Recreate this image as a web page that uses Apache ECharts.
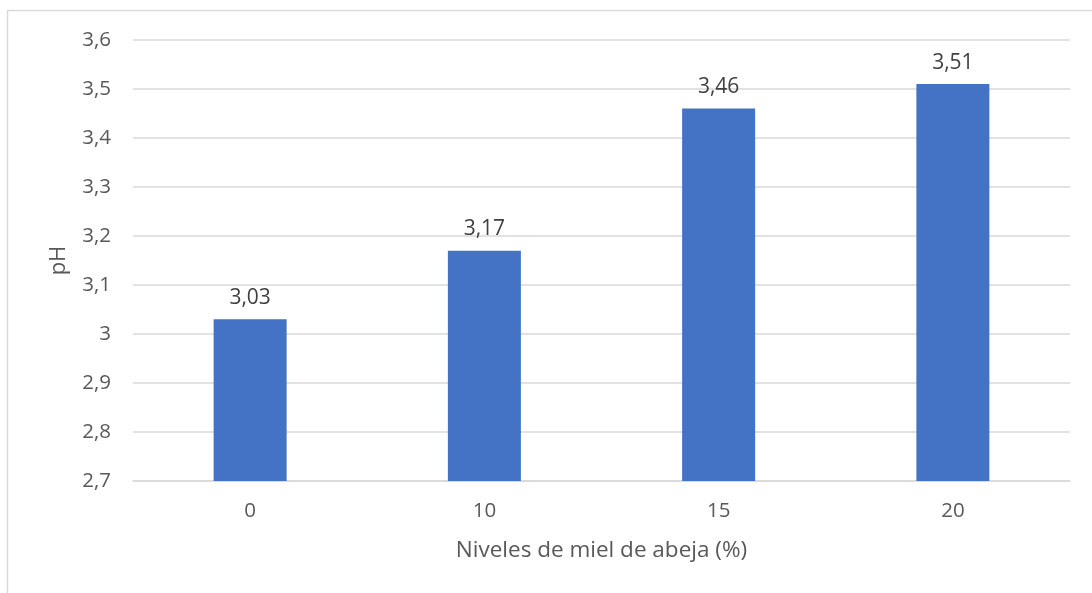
<!DOCTYPE html>
<html>
<head>
<meta charset="utf-8">
<script src="https://cdn.jsdelivr.net/npm/echarts@6/dist/echarts.min.js"></script>
<style>
html,body{margin:0;padding:0;background:#fff;}
#chart{width:1092px;height:593px;}
</style>
</head>
<body>
<div id="chart"></div>
<script>
// Niveles de miel de abeja (%) y pH medido
const categories = ['0', '10', '15', '20'];
const phValues = [3.03, 3.17, 3.46, 3.51];
const yMin = 2.7, yMax = 3.6, yStep = 0.1;

const FONT = '"Open Sans", "Liberation Sans", sans-serif';
const TEXT = '#595959';
const comma = v => String(v).replace('.', ',');

const chart = echarts.init(document.getElementById('chart'), null, {renderer: 'canvas'});
chart.setOption({
  backgroundColor: '#fff',
  animation: false,
  graphic: [{
    type: 'rect',
    shape: {x: 7.5, y: 10.5, width: 1200, height: 700},
    style: {fill: 'none', stroke: '#d9d9d9', lineWidth: 1.5},
    silent: true
  }],
  grid: {left: 133, right: 22, top: 40, bottom: 112, containLabel: false},
  xAxis: {
    type: 'category',
    data: categories,
    name: 'Niveles de miel de abeja (%)',
    nameLocation: 'middle',
    nameGap: 58,
    nameTextStyle: {color: TEXT, fontSize: 22.5, fontFamily: FONT},
    axisLine: {lineStyle: {color: '#d9d9d9', width: 1.5}},
    axisTick: {show: false},
    axisLabel: {color: TEXT, fontSize: 20.5, fontFamily: FONT, margin: 20}
  },
  yAxis: {
    type: 'value',
    min: yMin, max: yMax, interval: yStep,
    name: 'pH',
    nameLocation: 'middle',
    nameGap: 63,
    nameRotate: 90,
    nameTextStyle: {color: TEXT, fontSize: 22, fontFamily: FONT},
    axisLine: {show: false},
    axisTick: {show: false},
    splitLine: {lineStyle: {color: '#d9d9d9', width: 1.5}},
    axisLabel: {
      color: TEXT, fontSize: 20.5, fontFamily: FONT, margin: 22,
      formatter: v => comma(Math.round(v * 10) / 10)
    }
  },
  series: [{
    type: 'bar',
    data: phValues,
    barWidth: 73,
    itemStyle: {color: '#4472c4'},
    label: {
      show: true, position: 'top', distance: 11,
      color: '#404040', fontSize: 21, fontFamily: FONT,
      formatter: p => comma(p.value.toFixed(2))
    }
  }]
});
</script>
</body>
</html>
